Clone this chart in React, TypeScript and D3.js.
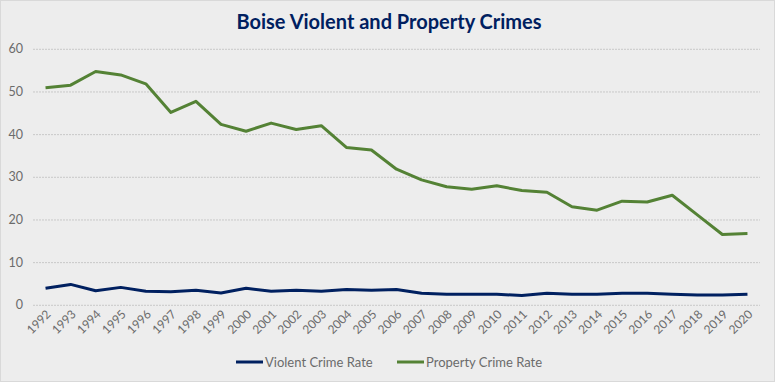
import React from "react";
import * as d3 from "d3";

const years = ["1992","1993","1994","1995","1996","1997","1998","1999","2000","2001","2002","2003","2004","2005","2006","2007","2008","2009","2010","2011","2012","2013","2014","2015","2016","2017","2018","2019","2020"];
const violent = [4.0,4.9,3.4,4.2,3.3,3.2,3.5,2.9,4.0,3.3,3.5,3.3,3.7,3.5,3.7,2.8,2.6,2.6,2.6,2.3,2.8,2.6,2.6,2.8,2.8,2.6,2.4,2.4,2.6];
const property = [51.0,51.6,54.8,54.0,51.9,45.2,47.8,42.4,40.8,42.7,41.2,42.1,37.0,36.4,31.9,29.4,27.8,27.2,28.0,26.9,26.5,23.1,22.3,24.4,24.2,25.8,21.2,16.6,16.8];
const yTicks = [0,10,20,30,40,50,60];
const seriesNames = ["Violent Crime Rate","Property Crime Rate"];
const colors = ["#002060","#548235"];

export default function App() {
  const W = 775, H = 382;
  const x = d3.scaleBand().domain(years).range([33, 760]);
  const y = d3.scaleLinear().domain([0, 60]).range([305.3, 49.3]);
  const line = d3.line<number>()
    .x((_, i) => (x(years[i]) as number) + x.bandwidth() / 2)
    .y((d) => y(d));
  const font = "'Lato', 'DejaVu Sans', sans-serif";
  const series = [violent, property];
  return (
    <svg width={W} height={H} style={{ position: "absolute", left: 0, top: 0 }}>
      <rect x={0.5} y={0.5} width={W - 1} height={H - 1} fill="#ededed" stroke="#d9d9d9" />
      <text x={389} y={29} textAnchor="middle" fontFamily={font} fontWeight="bold" fontSize={20} fill="#002060">
        Boise Violent and Property Crimes
      </text>
      {yTicks.map((t) => (
        <g key={t}>
          <line x1={33} x2={760} y1={y(t)} y2={y(t)} stroke="#c8c8c8" strokeDasharray="2,1" strokeWidth={1} />
          <text x={23} y={y(t) + 4} textAnchor="end" fontFamily={font} fontSize={12.5} fill="#6b6b6b">{t}</text>
        </g>
      ))}
      {years.map((yr) => {
        const cx = (x(yr) as number) + x.bandwidth() / 2;
        return (
          <text key={yr} transform={`translate(${cx + 6},${315}) rotate(-45)`} textAnchor="end" fontFamily={font} fontSize={12} fill="#6b6b6b">{yr}</text>
        );
      })}
      {series.map((s, i) => (
        <path key={i} d={line(s) || ""} fill="none" stroke={colors[i]} strokeWidth={3} strokeLinejoin="round" />
      ))}
      {seriesNames.map((n, i) => {
        const lx = i === 0 ? 236 : 397;
        return (
          <g key={n}>
            <line x1={lx} x2={lx + 27} y1={362} y2={362} stroke={colors[i]} strokeWidth={3} />
            <text x={lx + 29} y={366.5} fontFamily={font} fontSize={13} fill="#6b6b6b">{n}</text>
          </g>
        );
      })}
    </svg>
  );
}
